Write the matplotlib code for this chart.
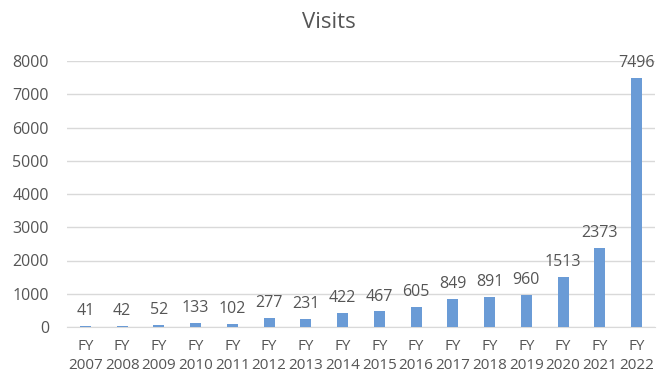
import matplotlib
matplotlib.use("Agg")
import matplotlib.pyplot as plt

categories = ["FY\n2007", "FY\n2008", "FY\n2009", "FY\n2010", "FY\n2011", "FY\n2012",
              "FY\n2013", "FY\n2014", "FY\n2015", "FY\n2016", "FY\n2017", "FY\n2018",
              "FY\n2019", "FY\n2020", "FY\n2021", "FY\n2022"]
visits = [41, 42, 52, 133, 102, 277, 231, 422, 467, 605, 849, 891, 960, 1513, 2373, 7496]
yticks = [0, 1000, 2000, 3000, 4000, 5000, 6000, 7000, 8000]

plt.rcParams['font.family'] = ['Open Sans', 'DejaVu Sans']
txt = '#555555'

fig = plt.figure(figsize=(6.57, 3.74), dpi=100)
ax = fig.add_axes([67/657, 47/374, 588/657, 266/374])

x = list(range(len(categories)))
ax.bar(x, visits, width=0.3, color='#6A9BD6', zorder=3)
for xi, v in zip(x, visits):
    ax.annotate(str(v), (xi, v), xytext=(0, 5), textcoords='offset points',
                ha='center', va='bottom', fontsize=11.5, color=txt)

ax.set_xlim(-0.5, len(categories) - 0.5)
ax.set_ylim(0, 8000)
ax.set_yticks(yticks)
ax.set_yticklabels([str(t) for t in yticks], fontsize=11.5, color=txt)
ax.set_xticks(x)
ax.set_xticklabels(categories, fontsize=11, color=txt, linespacing=1.3)
ax.tick_params(axis='x', length=0, pad=9)
ax.tick_params(axis='y', length=0, pad=13)
ax.yaxis.grid(True, color='#D9D9D9', linewidth=1, zorder=0)
for s in ['top', 'right', 'left']:
    ax.spines[s].set_visible(False)
ax.spines['bottom'].set_color('#D9D9D9')

fig.text(0.5, 1 - 23/374, 'Visits', ha='center', va='center', fontsize=16, color=txt)

fig.savefig('out.png', dpi=100)
